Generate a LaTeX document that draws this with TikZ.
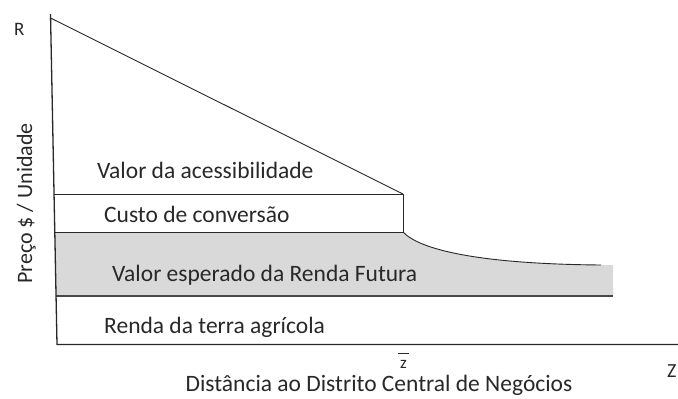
\documentclass[tikz,border=0pt]{standalone}
\usepackage{fontspec}
\setmainfont{Carlito}
\definecolor{fillgray}{RGB}{217,217,217}
\definecolor{ink}{RGB}{40,40,40}
\begin{document}
\begin{tikzpicture}[x=1pt,y=-1pt,
  lbl/.style={inner sep=0pt,anchor=base west,text=ink,font=\fontsize{23.5}{28}\selectfont},
  small/.style={inner sep=0pt,text=ink,font=\fontsize{19}{23}\selectfont},
  axisline/.style={draw=ink,line width=1.3pt},
  thinline/.style={draw=ink,line width=0.9pt},
  grayline/.style={draw=ink!85,line width=1.3pt}]
\useasboundingbox (0,0) rectangle (678,399);
% axis points
\coordinate (top) at (50.5,14);
\coordinate (orig) at (57,344.5);
\coordinate (xend) at (678,344.5);
\coordinate (a194) at (54.0,194);
\coordinate (a232) at (54.8,232);
\coordinate (a296) at (56.0,296);
\coordinate (dstart) at (50.5,18);
\coordinate (k1) at (403,194);
\coordinate (k2) at (403,232);
\coordinate (cend) at (601,265);
\coordinate (gtr) at (613,265);
\coordinate (gbr) at (613,296);
% gray band
\fill[fillgray] (a232) -- (k2) .. controls (420,250) and (480,264) .. (cend) -- (gtr) -- (gbr) -- (a296) -- cycle;
% lines
\draw[thinline] (dstart) -- (k1);
\draw[thinline] (a194) -- (k1) -- (k2);
\draw[thinline] (a232) -- (k2);
\draw[thinline] (k2) .. controls (420,250) and (480,264) .. (cend);
\draw[grayline] (a296) -- (gbr);
\draw[axisline] (top) -- (orig) -- (xend);
% labels
\node[lbl] (va) at (97,178) {Valor da acessibilidade};
\node[lbl] (cc) at (104,222) {Custo de conversão};
\node[lbl] (vr) at (112,281) {Valor esperado da Renda Futura};
\node[lbl] (ra) at (104,333) {Renda da terra agrícola};
\node[lbl,anchor=base] (dx) at (379,391) {Distância ao Distrito Central de Negócios};
\node[small,font=\fontsize{17}{20}\selectfont,anchor=base] (zb) at (403.5,368.5) {z};
\draw[ink,line width=0.9pt] (398,353) -- (409,353);
\node[small,font=\fontsize{20}{24}\selectfont,anchor=base west] (zz) at (667,377) {Z};
\node[small,anchor=base west] (rr) at (14,35) {R};
\node[lbl,font=\fontsize{22}{26}\selectfont,anchor=base,rotate=90] (py) at (32,203.5) {Preço \$ / Unidade};
\end{tikzpicture}
\end{document}
